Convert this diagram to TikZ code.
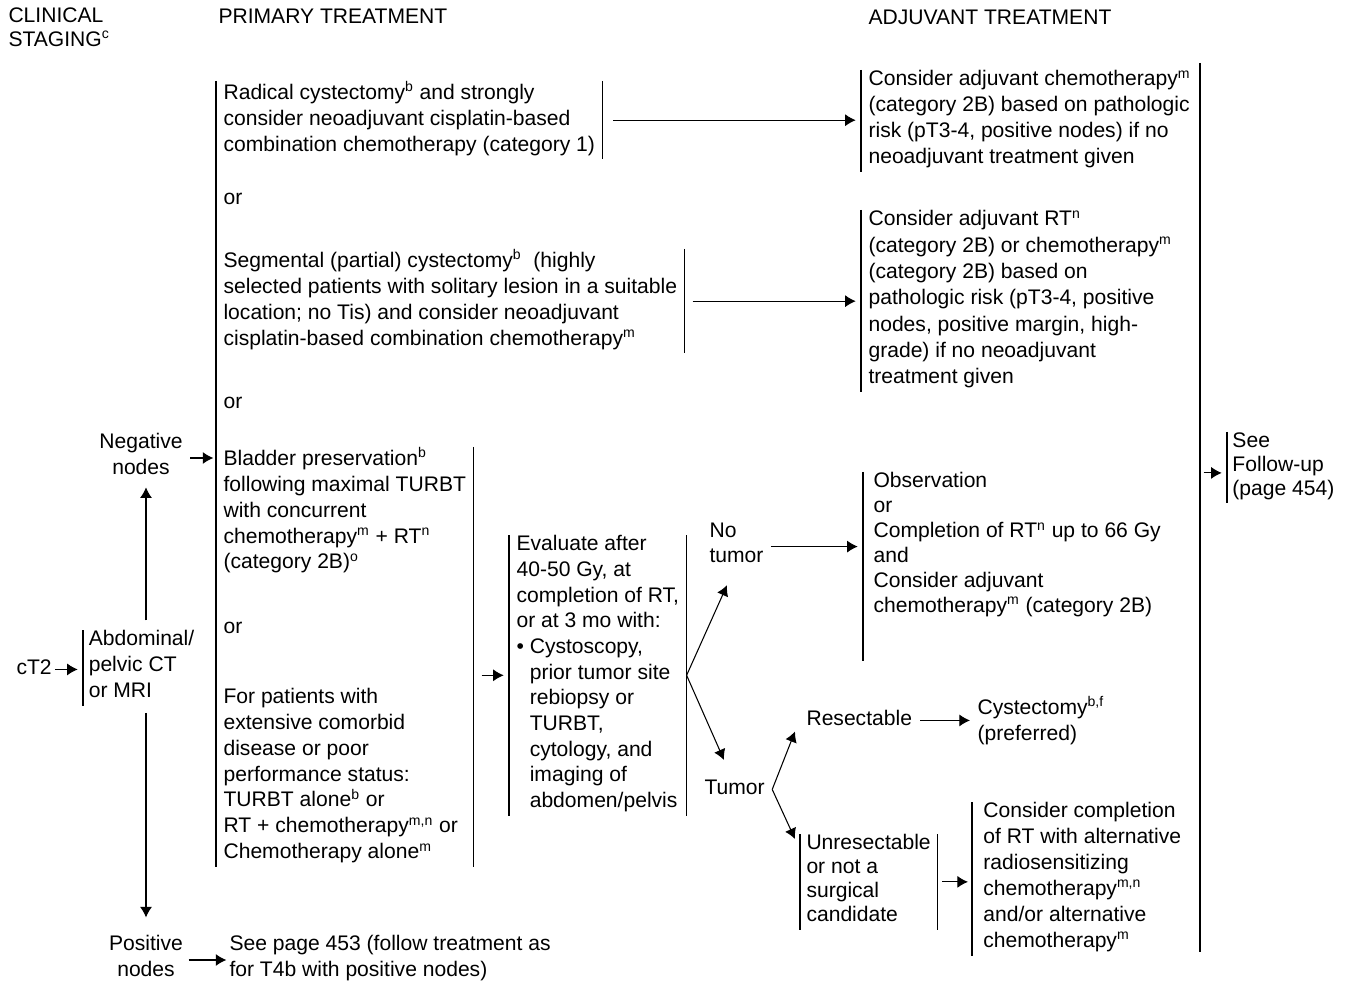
\documentclass[tikz,border=0pt]{standalone}
\usepackage{fontspec}
\setmainfont{Liberation Sans}
\usetikzlibrary{arrows.meta,calc}
\newcommand\fs{\fontsize{12}{14.74}\selectfont}
\newcommand\tstrut{\vrule width 0pt height 10.3pt depth 4.4pt}
\tikzset{
  txt/.style={font=\fs,align=left,anchor=north west,inner xsep=4pt,inner ysep=0pt,
    execute at begin node=\tstrut,execute at end node=\tstrut},
  plain/.style={txt,inner sep=0pt},
  lbar/.style={append after command={(\tikzlastnode.north west) edge (\tikzlastnode.south west)}},
  rbar/.style={append after command={(\tikzlastnode.north east) edge (\tikzlastnode.south east)}},
}
\begin{document}
\begin{tikzpicture}[x=0.02cm,y=-0.02cm,>={Latex[length=6pt,width=6.8pt]},line width=0.6pt]
\useasboundingbox (0,0) rectangle (1351,982);
% headings
\node[plain,font=\fontsize{12}{13.6}\selectfont] (stage) at (8,7) {CLINICAL\\STAGING\textsuperscript{c}};
\node[plain] (prim) at (218,5) {PRIMARY TREATMENT};
\node[plain] (adj) at (868,6) {ADJUVANT TREATMENT};
% clinical staging
\node[plain] (ct) at (16,656) {cT2};
\node[txt,lbar,inner xsep=3pt] (img) at (83,630) {Abdominal/\\pelvic CT\\or MRI};
\node[plain,anchor=center,align=center] (neg) at (141,458) {Negative\\nodes};
\node[plain,anchor=center,align=center] (pos) at (146,960) {Positive\\nodes};
\node[plain] (p453) at (229,935) {See page 453 (follow treatment as\\for T4b with positive nodes)};
\draw[->,shorten <=1.5pt,shorten >=3pt] (ct.east) -- (ct.east -| img.west);
\draw[->,shorten <=5.5pt,shorten >=2.5pt] (img.north -| pos) -- (neg.south -| pos);
\draw[->,shorten <=4pt,shorten >=10pt] (img.south -| pos) -- (pos.north);
% primary treatment
\node[txt,rbar] (rad) at (216,81) {Radical cystectomy\textsuperscript{b} and strongly\\consider neoadjuvant cisplatin-based\\combination chemotherapy (category 1)};
\node[txt] (or1) at (216,186) {or};
\node[txt,rbar] (seg) at (216,249) {Segmental (partial) cystectomy\textsuperscript{b}\ \ (highly\\selected patients with solitary lesion in a suitable\\location; no Tis) and consider neoadjuvant\\cisplatin-based combination chemotherapy\textsuperscript{m}};
\node[txt] (or2) at (216,390) {or};
\node[txt,rbar] (blad) at (216,447) {Bladder preservation\textsuperscript{b}\\following maximal TURBT\\with concurrent\\chemotherapy\textsuperscript{m} + RT\textsuperscript{n}\\(category 2B)\textsuperscript{o}\\[22pt]or\\[25pt]For patients with\\extensive comorbid\\disease or poor\\performance status:\\TURBT alone\textsuperscript{b} or\\RT + chemotherapy\textsuperscript{m,n} or\\Chemotherapy alone\textsuperscript{m}};
\draw (rad.north west) -- (blad.south west);
\draw[->,shorten <=4pt,shorten >=1.5pt] (neg.east) -- (neg.east -| rad.west);
\draw[->,shorten <=3pt,shorten >=1.5pt] (pos.east) -- (pos.east -| p453.west);
% adjuvant treatment
\node[txt,lbar] (adjchemo) at (861,70) {Consider adjuvant chemotherapy\textsuperscript{m}\\(category 2B) based on pathologic\\risk (pT3-4, positive nodes) if no\\neoadjuvant treatment given};
\node[txt,lbar,font=\fontsize{12}{15}\selectfont] (adjrt) at (861,210) {Consider adjuvant RT\textsuperscript{n}\\(category 2B) or chemotherapy\textsuperscript{m}\\(category 2B) based on\\pathologic risk (pT3-4, positive\\nodes, positive margin, high-\\grade) if no neoadjuvant\\treatment given};
\draw[->,shorten <=6pt,shorten >=3pt] (rad.east) -- (rad.east -| adjchemo.west);
\draw[->,shorten <=4.5pt,shorten >=3pt] (seg.east) -- (seg.east -| adjrt.west);
% evaluation
\node[txt,lbar,rbar,font=\fontsize{12}{14.6}\selectfont] (eval) at (509,535) {Evaluate after\\40-50 Gy, at\\completion of RT,\\or at 3 mo with:\\\textbullet\ Cystoscopy,\\\phantom{\textbullet\ }prior tumor site\\\phantom{\textbullet\ }rebiopsy or\\\phantom{\textbullet\ }TURBT,\\\phantom{\textbullet\ }cytology, and\\\phantom{\textbullet\ }imaging of\\\phantom{\textbullet\ }abdomen/pelvis};
\draw[->,shorten <=4.5pt,shorten >=3pt] (blad.east |- eval.west) -- (eval.west);
\node[plain] (notum) at (709,522) {No\\tumor};
\node[plain] (tum) at (704,776) {Tumor};
\draw[->] (eval.east) -- ($(notum.south west)+(18,14)$);
\draw[->] (eval.east) -- ($(tum.north west)+(20,-16)$);
\node[txt,inner xsep=5.7pt,font=\fontsize{12}{14.2}\selectfont] (obs) at (863,472) {Observation\\or\\Completion of RT\textsuperscript{n} up to 66 Gy\\and\\Consider adjuvant\\chemotherapy\textsuperscript{m} (category 2B)};
\draw (obs.north west) -- ([yshift=-23pt]obs.south west);
\draw[->,shorten <=4pt,shorten >=3pt] (notum.east) -- (notum.east -| obs.west);
% tumor
\node[plain] (res) at (806,707) {Resectable};
\node[plain] (cyst) at (977,696) {Cystectomy\textsuperscript{b,f}\\(preferred)};
\node[txt,lbar,rbar,inner xsep=3.4pt,font=\fontsize{12}{13.6}\selectfont] (unres) at (800,834) {Unresectable\\or not a\\surgical\\candidate};
\node[txt,lbar,inner xsep=6.2pt] (alt) at (972,802) {Consider completion\\of RT with alternative\\radiosensitizing\\chemotherapy\textsuperscript{m,n}\\and/or alternative\\chemotherapy\textsuperscript{m}};
\draw[->] ([xshift=4pt]tum.east) -- ($(res.west)+(-11,11)$);
\draw[->] ([xshift=4pt]tum.east) -- ($(unres.north west)+(-5,5)$);
\draw[->,shorten <=4.5pt,shorten >=4pt] (res.east) -- (res.east -| cyst.west);
\draw[->,shorten <=2.8pt,shorten >=2.3pt] (unres.east) -- (unres.east -| alt.west);
% follow-up
\coordinate (fuTop) at (1200,63);
\coordinate (fuBot) at (1200,952);
\draw (fuTop) -- (fuBot);
\node[txt,lbar,inner xsep=2.8pt,font=\fontsize{12}{13.6}\selectfont] (fu) at (1227,432) {See\\Follow-up\\(page 454)};
\draw[->,shorten <=2pt,shorten >=3pt] ([yshift=-3pt]fu.west -| fuTop) -- ([yshift=-3pt]fu.west);
\end{tikzpicture}
\end{document}
